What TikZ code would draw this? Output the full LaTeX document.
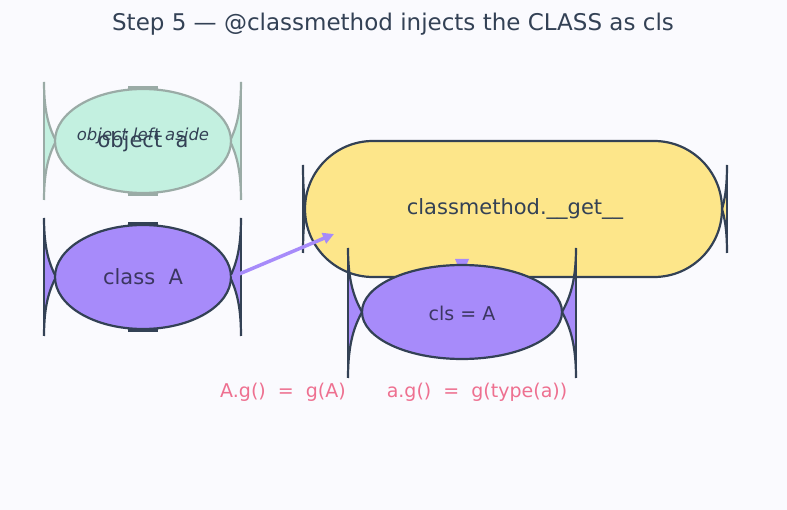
\documentclass[tikz,border=0pt]{standalone}
\usepackage{fontspec}
\setmainfont{DejaVu Sans}
\usetikzlibrary{arrows.meta,shapes.geometric}
\definecolor{bg}{HTML}{FAFAFE}
\definecolor{ink}{HTML}{334155}
\definecolor{mint}{HTML}{C3F0E0}
\definecolor{mintline}{HTML}{9AABA6}
\definecolor{violet}{HTML}{A78BFA}
\definecolor{sand}{HTML}{FDE68A}
\definecolor{pinkt}{HTML}{EE7090}
\definecolor{vtext}{HTML}{3B3660}
% #1 bar x, #2 tip x, #3 top y, #4 mid y, #5 bottom y, #6 fill, #7 stroke
\newcommand\sidebar[7]{%
  \fill[#6] (#1,#3) .. controls (#1,{#3+0.55*(#4-#3)}) and ({#1+0.5*(#2-#1)},{#4-0.2*(#4-#3)}) .. (#2,#4)
     .. controls ({#1+0.5*(#2-#1)},{#4+0.2*(#5-#4)}) and (#1,{#5-0.55*(#5-#4)}) .. (#1,#5) -- cycle;
  \draw[#7,line width=2.2pt] (#1,#3) .. controls (#1,{#3+0.55*(#4-#3)}) and ({#1+0.5*(#2-#1)},{#4-0.2*(#4-#3)}) .. (#2,#4)
     .. controls ({#1+0.5*(#2-#1)},{#4+0.2*(#5-#4)}) and (#1,{#5-0.55*(#5-#4)}) .. (#1,#5);
  \draw[#7,line width=2.6pt] (#1,#3) -- (#1,#5);
}
\begin{document}
\begin{tikzpicture}[x=1pt,y=-1pt,
  ell/.style={ellipse,draw,line width=2.2pt,inner sep=0pt},
  lbl/.style={font=\fontsize{19}{22}\selectfont,text=pinkt}]
\fill[bg] (0,0) rectangle (787,510);
\useasboundingbox (0,0) rectangle (787,510);

\node[text=ink,font=\fontsize{23}{26}\selectfont] (title) at (393,24) {Step 5 — @classmethod injects the CLASS as cls};

% object a
\sidebar{44}{56}{82}{141}{200}{mint}{mintline}
\sidebar{241}{230}{82}{141}{200}{mint}{mintline}
\fill[mintline] (128,86) rectangle (158,92);
\fill[mintline] (128,190) rectangle (158,196);
\node[ell,draw=mintline,fill=mint,minimum width=176pt,minimum height=104pt] (obja) at (143,141) {};
\node[text=ink,font=\fontsize{21}{24}\selectfont] (objtext) at (143,142) {object\ \ a};
\node[text=ink,font=\fontsize{16.5}{19}\selectfont\itshape] (aside) at (143,136) {object left aside};

% class A
\sidebar{44}{56}{218}{277}{336}{violet}{ink}
\sidebar{241}{230}{218}{277}{336}{violet}{ink}
\fill[ink] (128,222) rectangle (158,228);
\fill[ink] (128,326) rectangle (158,332);
\node[ell,draw=ink,fill=violet,minimum width=176pt,minimum height=104pt] (classA) at (143,277) {};
\node[text=vtext,font=\fontsize{21}{24}\selectfont] (classtext) at (143,277) {class\ \ A};

% classmethod.__get__
\sidebar{303}{306}{165}{209}{253}{sand}{ink}
\sidebar{727}{722}{165}{209}{253}{sand}{ink}
\node[draw=ink,fill=sand,line width=2.2pt,rounded corners=68pt,minimum width=417pt,minimum height=136pt,inner sep=0pt] (get) at (513.5,209) {};
\node[text=ink,font=\fontsize{21}{24}\selectfont] (gettext) at (515,209) {classmethod.\_\_get\_\_};

% cls = A
\sidebar{348}{362}{248}{312}{378}{violet}{ink}
\sidebar{576}{562}{248}{312}{378}{violet}{ink}
\fill[violet] (455,259) -- (469,259) -- (466,266) -- (458,266) -- cycle;
\node[ell,draw=ink,fill=violet,minimum width=200pt,minimum height=94pt] (cls) at (462,312) {};
\node[text=vtext,font=\fontsize{19}{22}\selectfont] (clstext) at (462,313) {cls = A};

% arrow
\coordinate (getin) at (334,234);
\draw[violet,line width=3.5pt,-{Triangle[length=11pt,width=11pt]}] (classA.east) -- (getin);

\node[lbl] (l1) at (283,392) {A.g()\ \ =\ \ g(A)};
\node[lbl] (l2) at (477,392) {a.g()\ \ =\ \ g(type(a))};
\end{tikzpicture}
\end{document}
